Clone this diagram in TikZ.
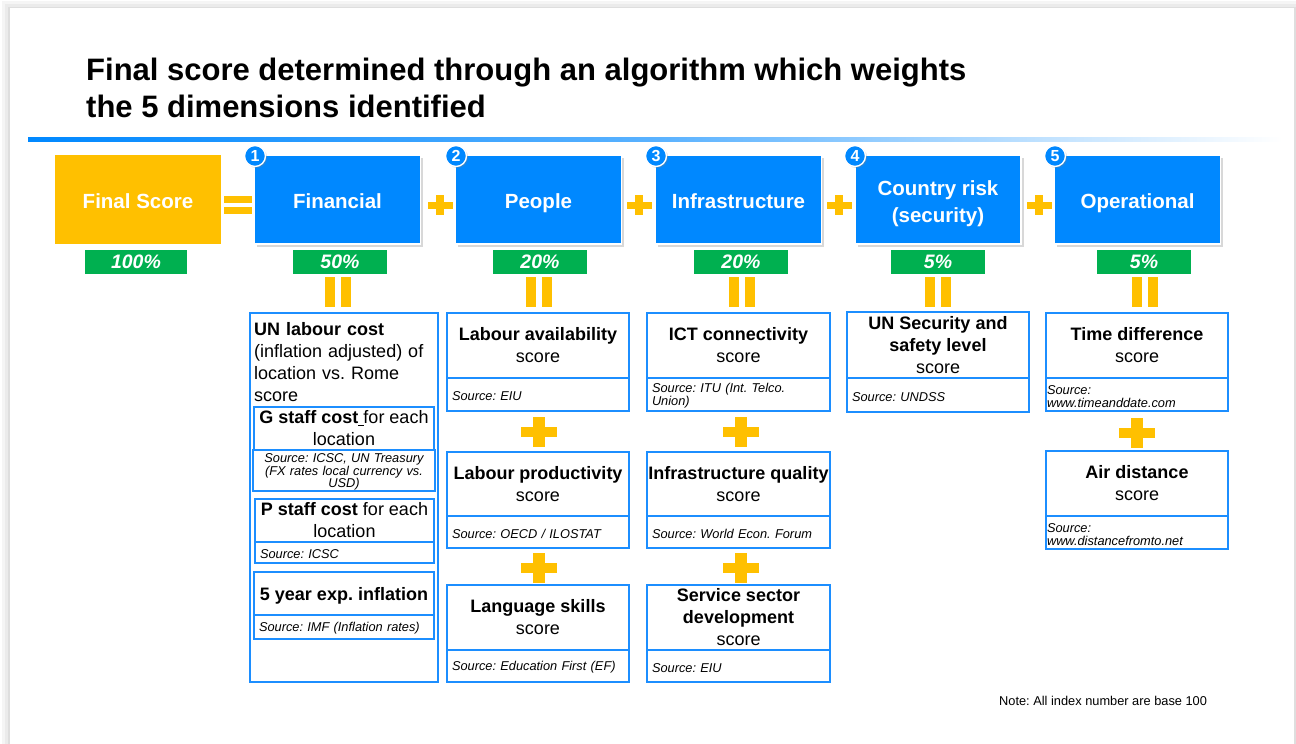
\documentclass[tikz,border=0pt]{standalone}
\usepackage{fontspec}
\setmainfont{Liberation Sans}
\usetikzlibrary{shadows}

\definecolor{topblue}{RGB}{0,136,255}
\definecolor{subblue}{RGB}{28,142,255}
\definecolor{pgreen}{RGB}{0,176,80}
\definecolor{gold}{RGB}{255,192,0}

\newcommand{\fsz}[2]{\fontsize{#1}{#2}\selectfont}
\frenchspacing

\tikzset{
  topbox/.style={fill=topblue, draw=white, line width=1.5pt, minimum width=166pt,
    minimum height=89pt, inner sep=0pt, text=white, align=center,
    font=\fsz{20.5}{24.6}\bfseries,
    drop shadow={shadow xshift=2.5pt, shadow yshift=-2.5pt, opacity=0.3}},
  oneline/.style={text height=17.6pt, text depth=0pt},
  totalbox/.style={fill=gold, minimum width=166pt, minimum height=89pt, inner sep=0pt,
    text=white, font=\fsz{20.5}{24.6}\bfseries, oneline},
  pct/.style={fill=pgreen, minimum width=94pt, minimum height=24pt, inner sep=0pt,
    text=white, font=\fsz{19.5}{20}\bfseries\itshape},
  numc/.style={circle, fill=topblue, draw=white, line width=1.4pt, minimum size=21pt,
    inner sep=0pt, text=white, font=\fsz{16}{16}\bfseries,
    drop shadow={shadow xshift=1.5pt, shadow yshift=-1.5pt, opacity=0.35}},
  subhead/.style={draw=subblue, line width=1.8pt, fill=white, inner sep=0pt,
    align=center, font=\fsz{18}{22}, execute at begin node={\rule{0pt}{18.5pt}}},
  subsrc/.style={draw=subblue, line width=1.8pt, fill=white, inner ysep=0pt,
    inner xsep=5pt, align=left, font=\fsz{12.8}{13}\itshape,
    execute at begin node={\rule{0pt}{12.5pt}}},
  outerbox/.style={draw=subblue, line width=1.8pt, fill=white, inner sep=0pt},
  % operator symbols
  hplus/.pic={\fill[gold] (-12.5,-3.5) rectangle (12.5,3.5);
              \fill[gold] (-4,-10) rectangle (4,10);},
  vplus/.pic={\fill[gold] (-18,-5) rectangle (18,5);
              \fill[gold] (-6,-15) rectangle (6,15);},
  heq/.pic={\fill[gold] (-14,-9) rectangle (14,-2);
            \fill[gold] (-14,2) rectangle (14,9);},
  veq/.pic={\fill[gold] (-13,-15) rectangle (-3,15);
            \fill[gold] (3,-15) rectangle (13,15);}
}

\begin{document}
\begin{tikzpicture}[x=1pt,y=-1pt]
\useasboundingbox (0,0) rectangle (1296,744);

% slide page with soft edge
\fill[white] (0,0) rectangle (1296,744);
\fill[black!4] (2,1) rectangle (1296,744);
\fill[black!8] (5,4) rectangle (1296,744);
\fill[black!13] (8,6.5) rectangle (1295.5,744);
\fill[white] (10,8) rectangle (1293.5,744);

% title
\node[anchor=base west, inner sep=0pt, font=\fsz{31}{37}\bfseries] (title1) at (86,80)
  {Final score determined through an algorithm which weights};
\node[anchor=base west, inner sep=0pt, font=\fsz{31}{37}\bfseries] (title2) at (86,117)
  {the 5 dimensions identified};

% title rule
\shade[left color=topblue, right color=white, middle color=topblue!65!white]
  (28,137) rectangle (1282,141.5);

% dimension boxes
\node[totalbox] (total) at (138,199.5) {Final Score};
\node[topbox, oneline] (fin) at (337.5,199.5) {Financial};
\node[topbox, oneline] (ppl) at (538.5,199.5) {People};
\node[topbox, oneline] (inf) at (738.5,199.5) {Infrastructure};
\node[topbox, font=\fsz{20.5}{27}\bfseries] (risk) at (938,199.5)
  {\rule{0pt}{23pt}Country risk\\(security)};
\node[topbox, oneline] (ops) at (1137.5,199.5) {Operational};

\node[numc] (n1) at (255,156) {1};
\node[numc] (n2) at (456,156) {2};
\node[numc] (n3) at (656,156) {3};
\node[numc] (n4) at (855,156) {4};
\node[numc] (n5) at (1055,156) {5};

\pic at (238,205) {heq};
\pic at (440,205) {hplus};
\pic at (639,205) {hplus};
\pic at (839,205) {hplus};
\pic at (1039,205) {hplus};

% weights
\node[pct, minimum width=102pt] (w0) at (136,262) {100\%};
\node[pct] (w1) at (340,262) {50\%};
\node[pct] (w2) at (540,262) {20\%};
\node[pct] (w3) at (741,262) {20\%};
\node[pct] (w4) at (938,262) {5\%};
\node[pct] (w5) at (1144,262) {5\%};

\pic at (338,292) {veq};
\pic at (538.5,292) {veq};
\pic at (741.5,292) {veq};
\pic at (937.5,292) {veq};
\pic at (1145,292) {veq};

% financial column
\node[outerbox, minimum width=188pt, minimum height=369pt] (finbox) at (344,497.5) {};
\node[anchor=north west, inner sep=0pt, text width=182pt, align=left,
      font=\fsz{18}{22}] (fintxt) at (254,322)
  {\textbf{UN labour cost}\\(inflation adjusted) of\\location vs. Rome\\score};
\node[subhead, minimum width=180pt, minimum height=43pt,
      execute at begin node={\rule{0pt}{17pt}}] (gst) at (344,428.5)
  {\textbf{G staff cost}\rlap{\rule[-2pt]{6pt}{1.3pt}} for each\\location};
\node[subsrc, align=center, text width=172pt, minimum height=41pt,
      font=\fsz{12.8}{12.5}\itshape, execute at begin node={}] (gsrc) at (344,470.5)
  {Source: ICSC, UN Treasury\\(FX rates local currency vs.\\USD)};
\node[subhead, minimum width=179pt, minimum height=43pt,
      execute at begin node={\rule{0pt}{17pt}}] (pst) at (344.5,520.5)
  {\textbf{P staff cost} for each\\location};
\node[subsrc, text width=169pt, minimum height=21pt] (psrc) at (344.5,552.5)
  {Source: ICSC};
\node[subhead, minimum width=180pt, minimum height=43pt,
      execute at begin node={\rule{0pt}{17pt}}] (inflt) at (344,593.5)
  {\textbf{5 year exp. inflation}};
\node[subsrc, text width=170pt, minimum height=24pt] (inflsrc) at (344,627)
  {Source: IMF (Inflation rates)};

% people column
\node[subhead, minimum width=182pt, minimum height=65pt] (lav) at (538,345.5)
  {\textbf{Labour availability}\\score};
\node[subsrc, text width=172pt, minimum height=33pt] (lavsrc) at (538,394.5)
  {Source: EIU};
\node[subhead, minimum width=182pt, minimum height=64pt] (lpr) at (538,484)
  {\textbf{Labour productivity}\\score};
\node[subsrc, text width=172pt, minimum height=32pt] (lprsrc) at (538,532)
  {Source: OECD / ILOSTAT};
\node[subhead, minimum width=182pt, minimum height=65pt] (lang) at (538,617.5)
  {\textbf{Language skills}\\score};
\node[subsrc, text width=172pt, minimum height=32pt] (langsrc) at (538,666)
  {Source: Education First (EF)};
\pic at (539,432) {vplus};
\pic at (539,567.5) {vplus};

% infrastructure column
\node[subhead, minimum width=183pt, minimum height=65pt] (ict) at (738.5,345.5)
  {\textbf{ICT connectivity}\\score};
\node[subsrc, text width=173pt, minimum height=33pt] (ictsrc) at (738.5,394.5)
  {Source: ITU (Int. Telco.\\Union)};
\node[subhead, minimum width=183pt, minimum height=64pt] (iq) at (738.5,484)
  {\textbf{Infrastructure quality}\\score};
\node[subsrc, text width=173pt, minimum height=32pt] (iqsrc) at (738.5,532)
  {Source: World Econ. Forum};
\node[subhead, minimum width=183pt, minimum height=65pt] (svc) at (738.5,617.5)
  {\textbf{Service sector}\\\textbf{development}\\score};
\node[subsrc, text width=173pt, minimum height=32pt] (svcsrc) at (738.5,666)
  {Source: EIU};
\pic at (741,432) {vplus};
\pic at (741,567.5) {vplus};

% country risk column
\node[subhead, minimum width=182pt, minimum height=66pt] (sec) at (938,345)
  {\textbf{UN Security and}\\\textbf{safety level}\\score};
\node[subsrc, text width=172pt, minimum height=34pt] (secsrc) at (938,395)
  {Source: UNDSS};

% operational column
\node[subhead, minimum width=182pt, minimum height=65pt] (td) at (1137,345.5)
  {\textbf{Time difference}\\score};
\node[subsrc, inner xsep=1pt, text width=180pt, minimum height=33pt] (tdsrc) at (1137,394.5)
  {Source:\\www.timeanddate.com};
\node[subhead, minimum width=182pt, minimum height=65pt] (air) at (1137,483.5)
  {\textbf{Air distance}\\score};
\node[subsrc, inner xsep=1pt, text width=180pt, minimum height=33pt] (airsrc) at (1137,532.5)
  {Source:\\www.distancefromto.net};
\pic at (1136.5,432.5) {vplus};

% footnote
\node[anchor=base west, inner sep=0pt, font=\fsz{12.8}{14}] (note) at (999,705.5)
  {Note: All index number are base 100};
\end{tikzpicture}
\end{document}
